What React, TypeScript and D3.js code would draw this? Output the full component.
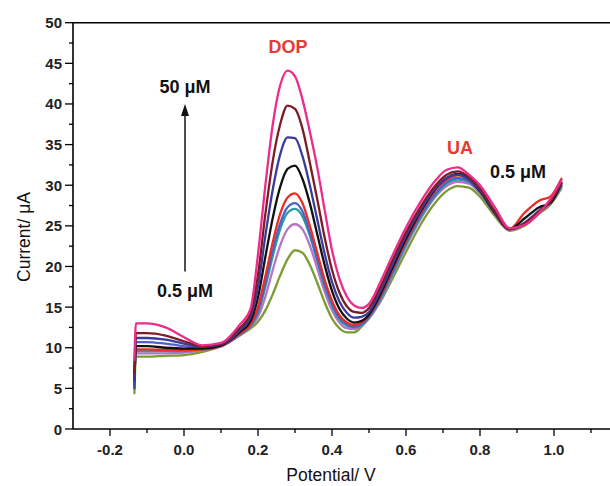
import React from "react";
import * as d3 from "d3";

const potentials = [-0.134, -0.13, -0.1, -0.05, 0.0, 0.05, 0.1, 0.15, 0.18, 0.2, 0.22, 0.24, 0.26, 0.28, 0.3, 0.32, 0.34, 0.36, 0.38, 0.4, 0.42, 0.44, 0.46, 0.48, 0.5, 0.53, 0.56, 0.6, 0.64, 0.68, 0.71, 0.74, 0.77, 0.8, 0.84, 0.88, 0.92, 0.96, 0.99, 1.02];

const olive = [4.4, 8.9, 8.9, 9.0, 9.1, 9.5, 10.2, 11.5, 12.4, 13.2, 14.6, 16.6, 18.9, 20.9, 22.0, 21.7, 20.2, 18.0, 15.6, 13.6, 12.4, 11.9, 11.9, 12.6, 13.7, 15.6, 18.2, 21.8, 25.2, 27.9, 29.3, 29.9, 29.7, 28.6, 26.2, 24.4, 25.0, 26.5, 27.6, 29.6];
const violet = [6.0, 9.3, 9.3, 9.3, 9.4, 9.7, 10.2, 11.5, 12.6, 13.8, 16.3, 19.6, 22.6, 24.6, 25.2, 24.6, 22.6, 19.8, 16.9, 14.6, 13.1, 12.4, 12.3, 12.7, 13.6, 15.7, 18.6, 22.5, 25.9, 28.6, 29.9, 30.4, 30.2, 29.0, 26.5, 24.5, 25.2, 26.7, 27.8, 29.8];
const teal = [6.5, 9.6, 9.6, 9.6, 9.6, 9.8, 10.2, 11.6, 12.7, 14.3, 17.5, 21.3, 24.6, 26.6, 27.1, 26.2, 23.8, 20.7, 17.6, 15.2, 13.5, 12.7, 12.5, 12.8, 13.7, 15.9, 18.8, 22.7, 26.1, 28.8, 30.2, 30.7, 30.4, 29.1, 26.5, 24.6, 25.3, 26.8, 27.9, 29.9];
const blue = [5.5, 10.7, 10.7, 10.5, 10.2, 9.9, 10.2, 11.7, 12.8, 14.6, 18.0, 22.0, 25.3, 27.3, 27.8, 26.8, 24.2, 21.0, 17.9, 15.4, 13.7, 12.9, 12.6, 12.9, 13.8, 16.1, 19.0, 22.9, 26.3, 29.0, 30.4, 30.9, 30.5, 29.2, 26.6, 24.6, 25.4, 26.9, 28.0, 30.0];
const red = [7.0, 9.8, 9.8, 9.7, 9.7, 9.8, 10.2, 11.7, 12.9, 15.0, 18.8, 23.0, 26.5, 28.5, 29.0, 27.8, 25.0, 21.7, 18.4, 15.8, 14.0, 13.1, 12.8, 13.1, 14.0, 16.3, 19.3, 23.2, 26.6, 29.4, 30.7, 31.2, 30.7, 29.3, 26.6, 24.6, 26.6, 28.1, 28.6, 30.8];
const black = [6.0, 10.2, 10.2, 10.0, 9.9, 9.9, 10.3, 11.9, 13.3, 16.2, 21.2, 26.0, 29.8, 32.0, 32.4, 30.8, 27.8, 24.0, 20.2, 17.0, 14.8, 13.6, 13.1, 13.3, 14.1, 16.5, 19.5, 23.4, 26.8, 29.6, 30.9, 31.4, 30.8, 29.3, 26.6, 24.6, 25.9, 27.3, 27.8, 30.2];
const navy = [5.0, 11.2, 11.2, 11.0, 10.5, 10.1, 10.4, 12.1, 13.8, 17.5, 23.8, 29.5, 33.8, 35.9, 35.8, 33.6, 30.0, 25.8, 21.6, 18.1, 15.7, 14.3, 13.7, 13.8, 14.4, 16.9, 19.9, 23.8, 27.0, 29.7, 30.9, 31.3, 30.7, 29.4, 26.7, 24.6, 25.2, 26.7, 28.0, 30.2];
const maroon = [6.9, 11.8, 11.8, 11.5, 10.8, 10.2, 10.5, 12.4, 14.2, 19.0, 26.5, 33.0, 37.5, 39.8, 39.4, 37.0, 32.8, 28.3, 23.6, 19.6, 16.8, 15.1, 14.4, 14.3, 14.9, 17.4, 20.4, 24.2, 27.4, 30.0, 31.3, 31.7, 31.0, 29.6, 26.8, 24.6, 25.3, 26.8, 28.0, 30.3];
const pink = [8.5, 13.0, 13.0, 12.5, 11.3, 10.3, 10.6, 12.8, 14.8, 21.5, 30.0, 37.5, 42.3, 44.1, 43.4, 40.6, 36.6, 32.2, 27.0, 22.0, 18.5, 16.3, 15.2, 14.9, 15.4, 18.0, 21.0, 24.8, 28.0, 30.6, 31.9, 32.2, 31.3, 30.0, 27.3, 24.7, 25.1, 26.6, 28.3, 30.6];

const seriesValues = [olive, violet, teal, blue, red, black, navy, maroon, pink];
const seriesColors = ["#7c9b33", "#b574c6", "#2a9ca2", "#4a63c8", "#ee2b25", "#111111", "#3a3b9c", "#7c1c24", "#ec2b8c"];

const yTicks = [0, 5, 10, 15, 20, 25, 30, 35, 40, 45, 50];
const yMinor = [2.5, 7.5, 12.5, 17.5, 22.5, 27.5, 32.5, 37.5, 42.5, 47.5];
const xTicks = [-0.2, 0.0, 0.2, 0.4, 0.6, 0.8, 1.0];
const xTickLabels = ["-0.2", "0.0", "0.2", "0.4", "0.6", "0.8", "1.0"];
const xMinor = [-0.1, 0.1, 0.3, 0.5, 0.7, 0.9, 1.1];

const FONT = "'Liberation Sans', Arial, Helvetica, sans-serif";

export default function App() {
  const x = d3.scaleLinear().domain([-0.3, 1.15]).range([73, 609.5]);
  const y = d3.scaleLinear().domain([0, 50]).range([429, 22.7]);
  const line = d3
    .line<number>()
    .x((_, i) => x(potentials[i]))
    .y((d) => y(d))
    .curve(d3.curveMonotoneX);

  const x0 = x(-0.3);
  const x1 = 610;
  const y0 = y(0);
  const yTop = y(50);

  return (
    <svg
      width={610}
      height={486}
      style={{ position: "absolute", left: 0, top: 0, background: "#fff" }}
      fontFamily={FONT}
    >
      <rect x={0} y={0} width={610} height={486} fill="#fff" />
      {/* curves */}
      <g fill="none" strokeWidth={2.3} strokeLinejoin="round" strokeLinecap="round">
        {seriesValues.map((vals, i) => (
          <path key={i} d={line(vals) || ""} stroke={seriesColors[i]} />
        ))}
      </g>

      {/* frame */}
      <g stroke="#000" strokeWidth={1.6} fill="none">
        <line x1={x0} x2={x1} y1={yTop} y2={yTop} />
        <line x1={x0} x2={x0} y1={yTop} y2={y0} />
        <line x1={x0} x2={x1} y1={y0} y2={y0} />
      </g>

      {/* ticks */}
      <g stroke="#000" strokeWidth={1.3}>
        {yTicks.map((t) => (
          <line key={"y" + t} x1={x0 - 8} x2={x0} y1={y(t)} y2={y(t)} />
        ))}
        {yMinor.map((t) => (
          <line key={"ym" + t} x1={x0 - 4} x2={x0} y1={y(t)} y2={y(t)} />
        ))}
        {xTicks.map((t) => (
          <line key={"x" + t} x1={x(t)} x2={x(t)} y1={y0} y2={y0 + 7} />
        ))}
        {xMinor.map((t) => (
          <line key={"xm" + t} x1={x(t)} x2={x(t)} y1={y0} y2={y0 + 4} />
        ))}
      </g>

      {/* tick labels */}
      <g fontSize={15} fontWeight="bold" fill="#222">
        {yTicks.map((t) => (
          <text key={"yl" + t} x={62} y={y(t)} textAnchor="end" dominantBaseline="central">
            {t}
          </text>
        ))}
        {xTicks.map((t, i) => (
          <text key={"xl" + t} x={x(t)} y={455} textAnchor="middle">
            {xTickLabels[i]}
          </text>
        ))}
      </g>

      {/* axis titles */}
      <text x={331} y={481} textAnchor="middle" fontSize={17.5} fill="#111">
        Potential/ V
      </text>
      <text
        transform="translate(30,237) rotate(-90)"
        textAnchor="middle"
        fontSize={17.5}
        fill="#111"
      >
        Current/ μA
      </text>

      {/* annotations */}
      <g fontSize={18} fontWeight="bold">
        <text x={288} y={53} textAnchor="middle" fill="#e63a33">DOP</text>
        <text x={460} y={153.5} textAnchor="middle" fill="#e63a33">UA</text>
        <text x={518} y={178} textAnchor="middle" fill="#111">0.5 μM</text>
        <text x={185} y={93} textAnchor="middle" fill="#111">50 μM</text>
        <text x={185} y={296.5} textAnchor="middle" fill="#111">0.5 μM</text>
      </g>
      <line x1={185} x2={185} y1={271.5} y2={112} stroke="#222" strokeWidth={1.6} />
      <path d="M185,104 L181,116 L189,116 Z" fill="#111" />
    </svg>
  );
}
